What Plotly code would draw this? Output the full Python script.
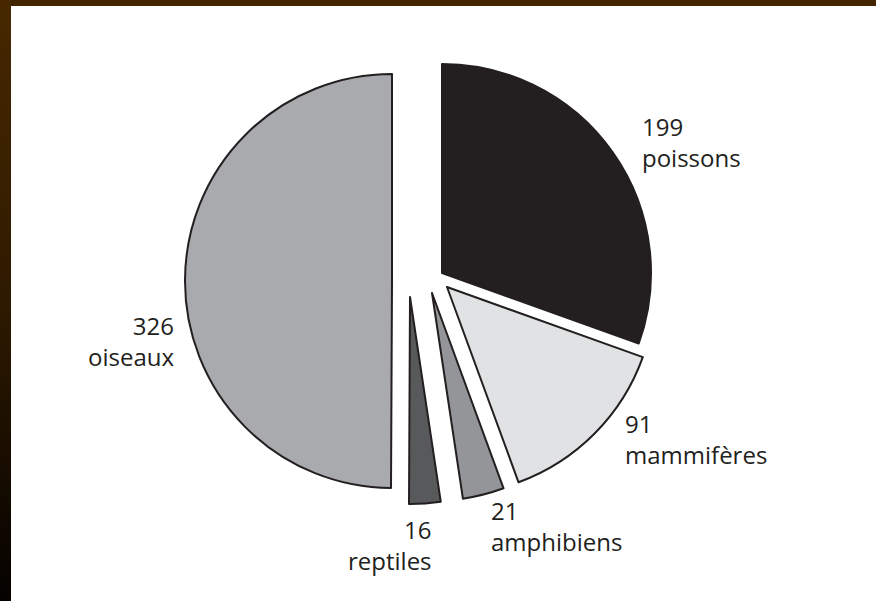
import base64
import plotly.graph_objects as go

# ---------------- data ----------------
CATEGORIES = ["poissons", "mammifères", "amphibiens", "reptiles", "oiseaux"]
VALUES = [199, 91, 21, 16, 326]

# ---------------- styles ----------------
COLORS = ["#231f20", "#e1e2e4", "#939598", "#58595b", "#a9aaad"]
EDGE = "#231f20"
EDGE_W = 2
FONT = dict(family="Open Sans", size=24, color="#231f20")

W, H = 876, 601

# layout: where each (exploded) slice's apex sits, and its radius, in pixels
SLICE_APEX = [(442, 273), (447, 287), (432, 293), (410, 297), (392, 281)]
SLICE_R = [209, 208, 208, 207, 207]

# label anchors (px): (x, y_center_of_block, xanchor)
LABEL_POS = [
    (640, 142, "left"),
    (623, 439, "left"),
    (489, 526, "left"),
    (434, 545, "right"),
    (176, 341, "right"),
]

fig = go.Figure()

for i in range(len(CATEGORIES)):
    cols = [c if j == i else "rgba(0,0,0,0)" for j, c in enumerate(COLORS)]
    widths = [EDGE_W if j == i else 0 for j in range(len(CATEGORIES))]
    ax, ay = SLICE_APEX[i]
    r = SLICE_R[i]
    fig.add_trace(go.Pie(
        labels=CATEGORIES,
        values=VALUES,
        sort=False,
        direction="clockwise",
        rotation=0,
        marker=dict(colors=cols, line=dict(color=EDGE, width=widths)),
        textinfo="none",
        hoverinfo="label+value",
        showlegend=False,
        domain=dict(x=[(ax - r) / W, (ax + r) / W],
                    y=[1 - (ay + r) / H, 1 - (ay - r) / H]),
    ))

annotations = []
for i, (name, val) in enumerate(zip(CATEGORIES, VALUES)):
    x, y, anc = LABEL_POS[i]
    annotations.append(dict(text=f"{val}<br>{name}", x=x / W, y=1 - y / H,
                            xref="paper", yref="paper", xanchor=anc, yanchor="middle",
                            align=anc, showarrow=False, font=FONT))

svg = (
    f'<svg xmlns="http://www.w3.org/2000/svg" width="{W}" height="{H}" viewBox="0 0 {W} {H}" preserveAspectRatio="none">'
    '<defs><linearGradient id="g" x1="0" y1="0" x2="0" y2="1">'
    '<stop offset="0" stop-color="#472800"/><stop offset="0.5" stop-color="#2e1a00"/>'
    '<stop offset="1" stop-color="#050200"/></linearGradient></defs>'
    f'<rect width="{W}" height="{H}" fill="#ffffff"/>'
    f'<rect x="0" y="0" width="{W}" height="6" fill="#432500"/>'
    f'<rect x="0" y="0" width="11" height="{H}" fill="url(#g)"/>'
    '</svg>'
)
src = "data:image/svg+xml;base64," + base64.b64encode(svg.encode()).decode()

fig.update_layout(
    width=W, height=H,
    margin=dict(l=0, r=0, t=0, b=0),
    paper_bgcolor="white",
    annotations=annotations,
    images=[dict(source=src, xref="paper", yref="paper", x=0, y=1, sizex=1, sizey=1,
                 xanchor="left", yanchor="top", sizing="stretch", layer="below")],
)

fig.write_html("out.html", config={"displayModeBar": False},
               post_script="document.body.style.margin='0';document.body.style.overflow='hidden';")
